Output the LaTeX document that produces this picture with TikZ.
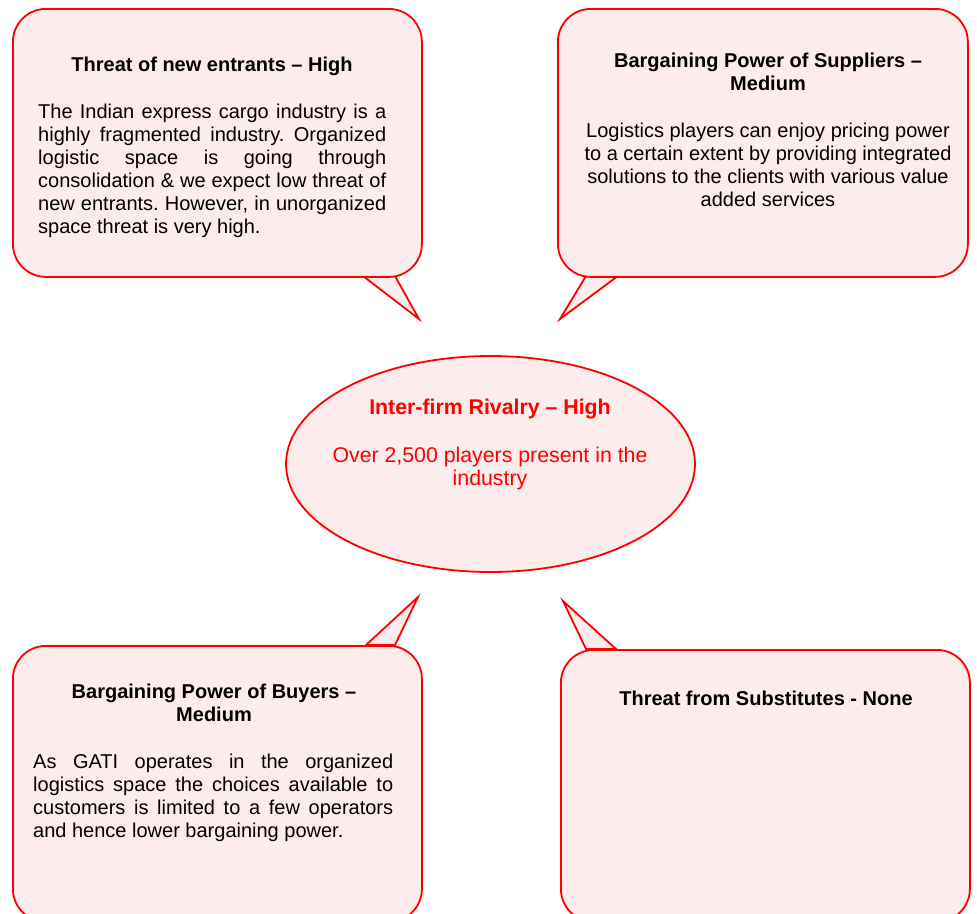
\documentclass[tikz,border=0pt]{standalone}
\usepackage{fontspec}
\setmainfont{Liberation Sans}
\usetikzlibrary{shapes.geometric}
\definecolor{pinkfill}{RGB}{253,236,236}
\definecolor{redline}{RGB}{255,0,0}
\frenchspacing
\begin{document}
\begin{tikzpicture}[x=1pt,y=-1pt,
  callout/.style={draw=redline, fill=pinkfill, line width=1.8pt, rounded corners=33pt, inner sep=0pt},
  tail/.style={draw=redline, fill=pinkfill, line width=1.8pt},
  oval/.style={draw=redline, fill=pinkfill, line width=1.8pt, ellipse, inner sep=0pt},
  txt/.style={inner sep=0pt, font=\fontsize{20}{23}\selectfont},
  redtxt/.style={inner sep=0pt, text=redline, font=\fontsize{21.3}{23.5}\selectfont},
]
\useasboundingbox (0,0) rectangle (977,913);
\clip (0,0) rectangle (977,913);

% tail tips
\coordinate (tip1) at (419,319);
\coordinate (tip2) at (560,319);
\coordinate (tip3) at (418,597);
\coordinate (tip4) at (563,601);

% tails
\filldraw[tail] (363,276) -- (tip1) -- (395,276) -- cycle;
\filldraw[tail] (586,276) -- (tip2) -- (618,276) -- cycle;
\filldraw[tail] (366,645) -- (tip3) -- (395,645) -- cycle;
\filldraw[tail] (586,649) -- (tip4) -- (616,649) -- cycle;

% boxes
\node[callout, anchor=north west, minimum width=409pt, minimum height=268pt] (b1) at (12,8) {};
\node[callout, anchor=north west, minimum width=410pt, minimum height=268pt] (b2) at (557,8) {};
\node[callout, anchor=north west, minimum width=409pt, minimum height=276pt] (b3) at (12,645) {};
\node[callout, anchor=north west, minimum width=409pt, minimum height=272pt] (b4) at (560,649) {};

% centre ellipse
\node[oval, minimum width=409pt, minimum height=216pt] (e) at (490.5,464) {};

% box 1 text
\node[txt, anchor=base] (t1) at (212,71) {\bfseries Threat of new entrants -- High};
\node[txt, anchor=base west] (p1) at (38,118) {\parbox[t]{348pt}{%
\makebox[\linewidth][s]{The Indian express cargo industry is a}\\
\makebox[\linewidth][s]{highly fragmented industry. Organized}\\
\makebox[\linewidth][s]{logistic space is going through}\\
\makebox[\linewidth][s]{consolidation \& we expect low threat of}\\
\makebox[\linewidth][s]{new entrants. However, in unorganized}\\
space threat is very high.}};

% box 2 text
\node[txt, anchor=base] (t2) at (768,67) {\parbox[t]{400pt}{\centering\bfseries Bargaining Power of Suppliers --\\ Medium}};
\node[txt, anchor=base] (p2) at (768,137) {\parbox[t]{400pt}{\centering
Logistics players can enjoy pricing power\\
to a certain extent by providing integrated\\
solutions to the clients with various value\\
added services}};

% box 3 text
\node[txt, anchor=base] (t3) at (214,698) {\parbox[t]{400pt}{\centering\bfseries Bargaining Power of Buyers --\\ Medium}};
\node[txt, anchor=base west] (p3) at (33,768) {\parbox[t]{360pt}{%
\makebox[\linewidth][s]{As GATI operates in the organized}\\
\makebox[\linewidth][s]{logistics space the choices available to}\\
\makebox[\linewidth][s]{customers is limited to a few operators}\\
and hence lower bargaining power.}};

% box 4 text
\node[txt, anchor=base] (t4) at (766,705) {\bfseries Threat from Substitutes - None};

% ellipse text
\node[redtxt, anchor=base] (te) at (490,414) {\bfseries Inter-firm Rivalry -- High};
\node[redtxt, anchor=base] (pe) at (490,462) {\parbox[t]{400pt}{\centering Over 2,500 players present in the\\ industry}};
\end{tikzpicture}
\end{document}
